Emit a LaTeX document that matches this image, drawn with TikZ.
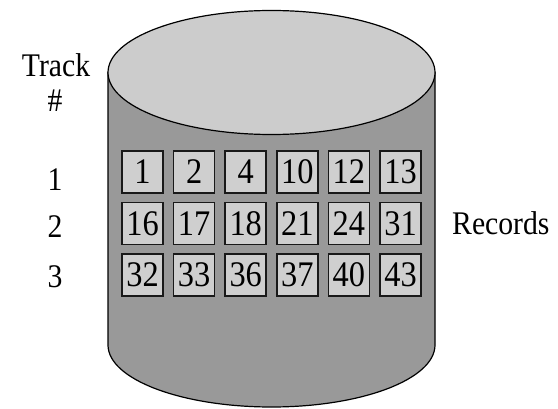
\documentclass[tikz,border=0pt]{standalone}
\usepackage{fontspec}
\setmainfont{Liberation Serif}[FakeStretch=0.9]
\definecolor{topgray}{HTML}{CCCCCC}
\definecolor{bodygray}{HTML}{999999}
\definecolor{recgray}{HTML}{CFCFCF}
\begin{document}
\begin{tikzpicture}[x=1pt,y=1pt,
  outline/.style={draw=black, line width=1.2pt},
  rec/.style={draw=black!90, line width=1.5pt, fill=recgray,
    minimum width=41pt, minimum height=42pt, inner sep=0pt,
    font=\fontsize{36}{36}\selectfont},
  lab/.style={anchor=base, inner sep=0pt, font=\fontsize{33}{33}\selectfont}]
\useasboundingbox (0,0) rectangle (558,408);

% cylinder body: sides and lower rim
\filldraw[outline, fill=bodygray]
  (108,335.5) -- (108,63)
  arc[start angle=180, end angle=360, x radius=163.5, y radius=62]
  -- (435,335.5) -- cycle;
% top face
\filldraw[outline, fill=topgray] (271.5,335.5) ellipse[x radius=163.5, y radius=62];

% records laid out on three tracks
\foreach \row/\y/\nums in {1/236/{1,2,4,10,12,13},
                           2/184.5/{16,17,18,21,24,31},
                           3/133/{32,33,36,37,40,43}} {
  \foreach \n [count=\i from 0] in \nums {
    \node[rec] (r\row-\i) at (142.5+51.6*\i, \y) {\n};
  }
}

% track labels
\node[lab] (track) at (56,331) {Track};
\node[lab] (hash) at (55,296) {\#};
\node[lab] (t1) at (55,218) {1};
\node[lab] (t2) at (55,171) {2};
\node[lab] (t3) at (55,121) {3};

\node[lab, anchor=base west] (records) at (452,173) {Records};
\end{tikzpicture}
\end{document}
